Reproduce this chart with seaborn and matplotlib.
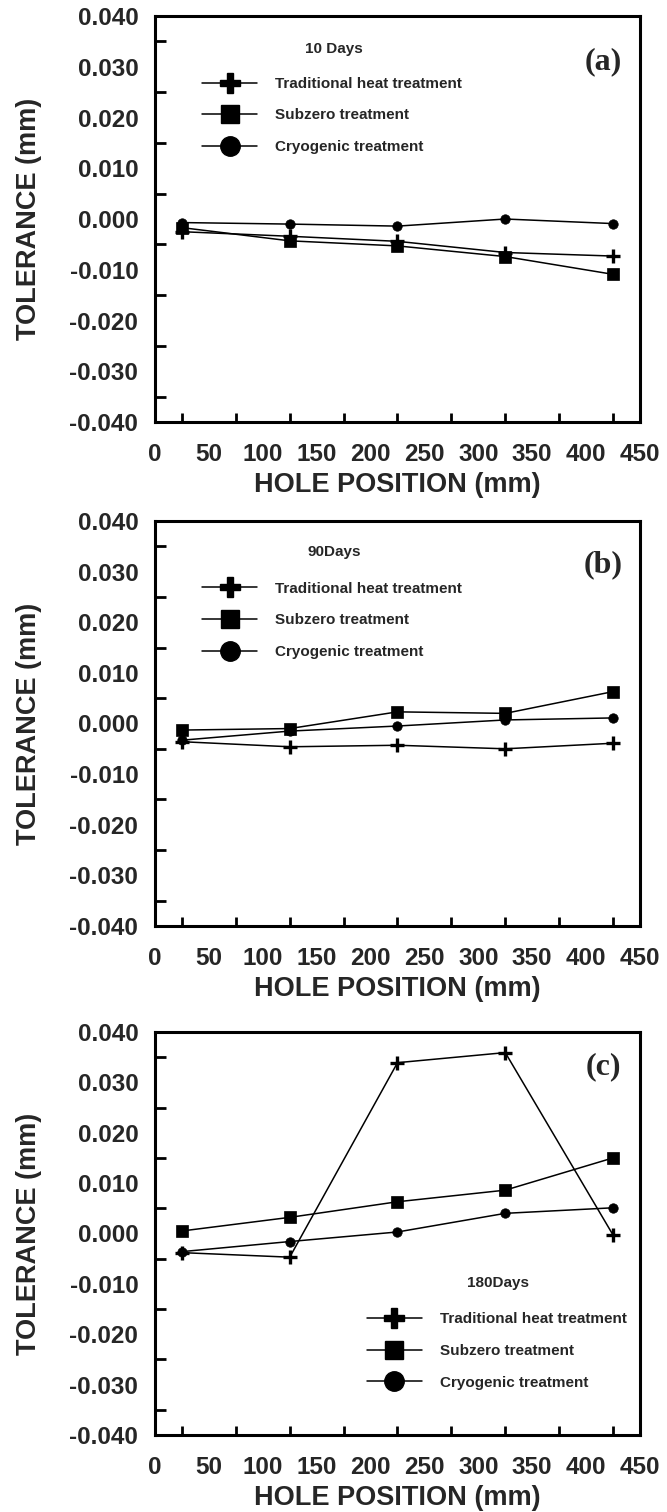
import matplotlib
matplotlib.use("Agg")
import matplotlib.pyplot as plt
from matplotlib.lines import Line2D
from matplotlib.ticker import MultipleLocator, FormatStrFormatter
import seaborn as sns
import pandas as pd

# ---------------- data ----------------
positions = [25, 125, 225, 325, 425]
series_names = ["Traditional heat treatment", "Subzero treatment", "Cryogenic treatment"]

trad_10 = [-0.0025, -0.0034, -0.0044, -0.0066, -0.0073]
sub_10 = [-0.0017, -0.0043, -0.0053, -0.0074, -0.0109]
cryo_10 = [-0.0007, -0.0010, -0.0014, 0.0000, -0.0009]

trad_90 = [-0.0036, -0.0046, -0.0043, -0.0050, -0.0039]
sub_90 = [-0.0013, -0.0010, 0.0023, 0.0020, 0.0063]
cryo_90 = [-0.0033, -0.0015, -0.0005, 0.0007, 0.0011]

trad_180 = [-0.0038, -0.0047, 0.0339, 0.0359, -0.0003]
sub_180 = [0.0005, 0.0032, 0.0063, 0.0086, 0.0150]
cryo_180 = [-0.0036, -0.0016, 0.0003, 0.0040, 0.0051]

panel_titles = ["10 Days", "90Days", "180Days"]
panel_tags = ["(a)", "(b)", "(c)"]
x_label = "HOLE POSITION (mm)"
y_label = "TOLERANCE (mm)"

# ---------------- style ----------------
sns.set_theme(style="white")
plt.rcParams["font.family"] = ["Liberation Sans", "DejaVu Sans"]
plt.rcParams["font.weight"] = "bold"

fig = plt.figure(figsize=(6.67, 15.12), dpi=100)
left, width = 0.2324, 0.7271
axes_rects = [
    [left, 0.7209, width, 0.2685],
    [left, 0.3876, width, 0.2678],
    [left, 0.0509, width, 0.2666],
]

panels = [
    (trad_10, sub_10, cryo_10),
    (trad_90, sub_90, cryo_90),
    (trad_180, sub_180, cryo_180),
]

legend_anchor = [(0.097, 0.850), (0.097, 0.850), (0.437, 0.304)]
title_pos = [(0.369, 0.920), (0.369, 0.924), (0.707, 0.377)]
tag_pos = [(0.924, 0.887), (0.924, 0.891), (0.924, 0.913)]

marker_specs = [
    dict(marker="+", markersize=10.5, markeredgewidth=2.4),
    dict(marker="s", markersize=8, markeredgewidth=0.5),
    dict(marker="o", markersize=6.8, markeredgewidth=0.5),
]
legend_markers = [
    dict(marker="P", markersize=14),
    dict(marker="s", markersize=13.5),
    dict(marker="o", markersize=14),
]

for i, rect in enumerate(axes_rects):
    ax = fig.add_axes(rect)
    for name, vals, spec in zip(series_names, panels[i], marker_specs):
        df = pd.DataFrame({"pos": positions, "tol": vals})
        sns.lineplot(data=df, x="pos", y="tol", ax=ax, color="black",
                     linewidth=1.1, markeredgecolor="black",
                     markerfacecolor="black", legend=False, **spec)
    ax.set_xlim(0, 450)
    ax.set_ylim(-0.04, 0.04)
    ax.xaxis.set_major_locator(MultipleLocator(50))
    ax.xaxis.set_minor_locator(MultipleLocator(25))
    ax.yaxis.set_major_locator(MultipleLocator(0.01))
    ax.yaxis.set_minor_locator(MultipleLocator(0.005))
    ax.yaxis.set_major_formatter(FormatStrFormatter("%.3f"))
    ax.tick_params(axis="both", which="major", direction="in", length=13,
                   width=2, color="black", labelsize=17.5,
                   top=False, right=False)
    ax.tick_params(axis="y", which="major", pad=12)
    ax.tick_params(axis="y", which="minor", direction="in", length=7.8,
                   width=2, color="black", left=True, right=False)
    ax.tick_params(axis="x", which="minor", direction="in", length=6.7,
                   width=2, color="black", bottom=True, top=False)
    ax.tick_params(axis="x", which="major", pad=15)
    for lbl in ax.get_xticklabels() + ax.get_yticklabels():
        lbl.set_fontweight("bold")
    for sp in ax.spines.values():
        sp.set_linewidth(2.2)
        sp.set_color("black")
        sp.set_visible(True)
    ax.set_xlabel(x_label, fontsize=19.5, fontweight="bold")
    ax.set_ylabel(y_label, fontsize=19.5, fontweight="bold")
    ax.xaxis.set_label_coords(0.5, -0.156)
    ax.xaxis.label.set_va("center")
    ax.yaxis.set_label_coords(-0.26, 0.5)
    ax.yaxis.label.set_va("center")

    handles = [Line2D([], [], color="black", linewidth=1.1,
                      markerfacecolor="black", markeredgecolor="black", **lm)
               for lm in legend_markers]
    leg = ax.legend(handles, series_names, loc="upper left",
                    bbox_to_anchor=legend_anchor[i], frameon=False,
                    borderpad=0, borderaxespad=0, handlelength=3.6,
                    handletextpad=1.18, labelspacing=1.15,
                    prop={"size": 11, "weight": "bold"})
    ax.text(title_pos[i][0], title_pos[i][1], panel_titles[i],
            transform=ax.transAxes, ha="center", va="center",
            fontsize=11, fontweight="bold")
    ax.text(tag_pos[i][0], tag_pos[i][1], panel_tags[i],
            transform=ax.transAxes, ha="center", va="center",
            fontsize=23, fontweight="bold", family="Liberation Serif")

fig.savefig("out.png", dpi=100)
